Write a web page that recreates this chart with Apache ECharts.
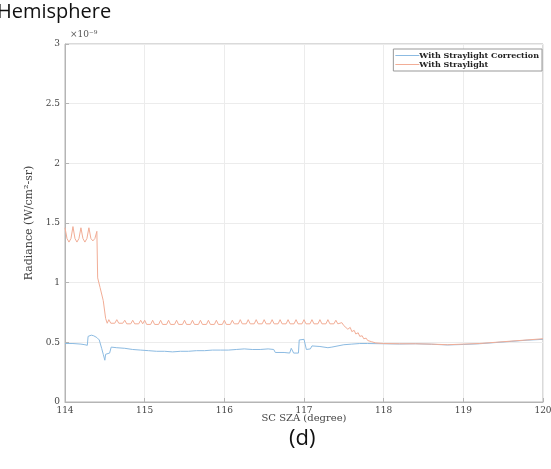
<!DOCTYPE html>
<html><head><meta charset="utf-8">
<script src="https://cdn.jsdelivr.net/npm/echarts@6/dist/echarts.min.js"></script>
<style>html,body{margin:0;padding:0;background:#fff}#c{width:551px;height:469px}</style>
</head><body><div id="c"></div>
<script>
// ---- data (x in degrees, y in units of 1e-9 W/cm^2-sr) ----
const xTicks = [114,115,116,117,118,119,120];
const yTicks = [0,0.5,1,1.5,2,2.5,3];
const seriesNames = ['With Straylight Correction','With Straylight'];

const blueX = [114.00,114.10,114.20,114.25,114.28,114.29,114.33,114.36,114.40,114.43,114.46,114.48,114.50,114.51,114.53,114.56,114.58,114.65,114.75,114.85,114.95,115.05,115.15,115.25,115.35,115.45,115.55,115.65,115.75,115.85,115.95,116.05,116.15,116.25,116.35,116.45,116.55,116.62,116.64,116.75,116.77,116.82,116.84,116.86,116.87,116.93,116.94,117.00,117.02,117.03,117.08,117.10,117.20,117.30,117.35,117.37,117.50,117.60,117.70,117.80,118.00,118.20,118.40,118.60,118.80,119.00,119.20,119.40,119.60,119.80,120.00];
const blueY = [0.49,0.49,0.485,0.48,0.475,0.55,0.56,0.555,0.54,0.52,0.45,0.40,0.35,0.40,0.41,0.41,0.46,0.455,0.45,0.44,0.435,0.43,0.425,0.425,0.42,0.425,0.425,0.43,0.43,0.435,0.435,0.435,0.44,0.445,0.44,0.44,0.445,0.44,0.415,0.415,0.41,0.41,0.45,0.45,0.41,0.41,0.52,0.525,0.52,0.44,0.445,0.47,0.465,0.455,0.46,0.475,0.48,0.485,0.49,0.49,0.488,0.486,0.488,0.484,0.478,0.482,0.488,0.498,0.508,0.518,0.525];

const redX = [114.000,114.025,114.050,114.075,114.100,114.125,114.150,114.175,114.200,114.225,114.250,114.275,114.300,114.325,114.350,114.375,114.400,114.410,114.440,114.480,114.510,114.530,
114.550,114.575,114.600,114.625,114.650,114.675,114.700,114.725,114.750,114.775,114.800,114.825,114.850,114.875,114.900,114.925,114.950,114.975,
115.000,115.025,115.050,115.075,115.100,115.125,115.150,115.175,115.200,115.225,115.250,115.275,115.300,115.325,115.350,115.375,115.400,115.425,115.450,115.475,
115.500,115.525,115.550,115.575,115.600,115.625,115.650,115.675,115.700,115.725,115.750,115.775,115.800,115.825,115.850,115.875,115.900,115.925,115.950,115.975,
116.000,116.025,116.050,116.075,116.100,116.125,116.150,116.175,116.200,116.225,116.250,116.275,116.300,116.325,116.350,116.375,116.400,116.425,116.450,116.475,
116.500,116.525,116.550,116.575,116.600,116.625,116.650,116.675,116.700,116.725,116.750,116.775,116.800,116.825,116.850,116.875,116.900,116.925,116.950,116.975,
117.000,117.025,117.050,117.075,117.100,117.125,117.150,117.175,117.200,117.225,117.250,117.275,117.300,117.325,117.350,117.375,117.400,117.425,117.450,117.475,
117.500,117.520,117.550,117.580,117.600,117.630,117.650,117.680,117.700,117.730,117.750,117.780,117.800,117.850,117.900,118.000,118.200,118.400,118.600,118.800,119.000,119.200,119.400,119.600,119.800,120.000];
const redY = [1.46,1.37,1.34,1.37,1.47,1.37,1.34,1.37,1.46,1.37,1.34,1.37,1.46,1.37,1.35,1.37,1.43,1.04,0.96,0.85,0.70,0.66,
0.69,0.66,0.645,0.66,0.69,0.66,0.645,0.66,0.685,0.655,0.64,0.655,0.685,0.655,0.64,0.655,0.685,0.655,
0.685,0.65,0.635,0.65,0.685,0.65,0.635,0.65,0.685,0.65,0.635,0.65,0.685,0.65,0.635,0.65,0.685,0.65,0.635,0.65,
0.685,0.65,0.635,0.65,0.685,0.65,0.635,0.65,0.685,0.65,0.635,0.65,0.685,0.65,0.635,0.65,0.685,0.65,0.635,0.65,
0.685,0.65,0.635,0.65,0.685,0.655,0.64,0.655,0.69,0.655,0.64,0.655,0.69,0.655,0.64,0.655,0.69,0.655,0.64,0.655,
0.69,0.655,0.64,0.655,0.69,0.655,0.64,0.655,0.69,0.655,0.64,0.655,0.69,0.655,0.64,0.655,0.69,0.655,0.64,0.655,
0.69,0.655,0.64,0.655,0.69,0.655,0.64,0.655,0.69,0.655,0.64,0.655,0.69,0.655,0.64,0.655,0.685,0.655,0.64,0.665,
0.64,0.645,0.61,0.625,0.59,0.60,0.57,0.58,0.55,0.555,0.53,0.535,0.515,0.505,0.495,0.49,0.488,0.488,0.485,0.48,0.485,0.49,0.50,0.51,0.52,0.53];

const zip = (xs, ys) => xs.map((x, i) => [x, ys[i]]);
const serif = "'DejaVu Serif', 'Liberation Serif', serif";
const chart = echarts.init(document.getElementById('c'));
chart.setOption({
  animation: false,
  backgroundColor: '#fff',
  grid: { left: 65, right: 8, top: 44, bottom: 67, outerBoundsMode: 'none', containLabel: false, show: true, borderColor: '#b5b5b5', borderWidth: 1 },
  xAxis: {
    type: 'value', min: 114, max: 120, interval: 1,
    name: 'SC SZA (degree)', nameLocation: 'middle', nameGap: 11, nameMoveOverlap: false,
    nameTextStyle: { fontFamily: serif, fontSize: 10, color: '#444' },
    axisLine: { lineStyle: { color: '#b5b5b5' } },
    axisTick: { inside: true, length: 4, lineStyle: { color: '#b5b5b5' } },
    axisLabel: { fontFamily: serif, fontSize: 9, color: '#444', margin: 4, formatter: v => xTicks.includes(v) ? String(v) : '' },
    splitLine: { show: true, lineStyle: { color: '#ececec' } }
  },
  yAxis: {
    type: 'value', min: 0, max: 3, interval: 0.5,
    name: 'Radiance (W/cm²-sr)', nameLocation: 'middle', nameGap: 30, nameMoveOverlap: false,
    nameTextStyle: { fontFamily: serif, fontSize: 11, color: '#444' },
    axisLine: { show: true, lineStyle: { color: '#b5b5b5' } },
    axisTick: { show: true, inside: true, length: 4, lineStyle: { color: '#b5b5b5' } },
    axisLabel: { fontFamily: serif, fontSize: 9, color: '#444', margin: 5, formatter: v => yTicks.includes(v) ? String(v) : '' },
    splitLine: { show: true, lineStyle: { color: '#ececec' } }
  },
  legend: {
    orient: 'vertical', right: 9, top: 49, itemGap: 0, itemWidth: 24, itemHeight: 1, icon: 'rect',
    backgroundColor: '#fff', borderColor: '#999', borderWidth: 1, borderRadius: 0, padding: [2, 3, 2, 2],
    textStyle: { fontFamily: serif, fontSize: 8, color: '#222', fontWeight: 'bold', lineHeight: 9, padding: [0,0,0,-5] },
    data: seriesNames
  },
  series: [
    { name: seriesNames[0], type: 'line', symbol: 'none', data: zip(blueX, blueY), lineStyle: { width: 1, color: '#8cbbe2' }, itemStyle: { color: '#8cbbe2' } },
    { name: seriesNames[1], type: 'line', symbol: 'none', data: zip(redX, redY), lineStyle: { width: 1, color: '#f2ad96' }, itemStyle: { color: '#f2ad96' } }
  ],
  graphic: [
    { type: 'text', left: -3, top: 2, style: { text: 'Hemisphere', font: "20px 'Open Sans', 'Noto Sans', sans-serif", fill: '#111' } },
    { type: 'text', left: 70, top: 30, style: { text: '×10⁻⁹', font: "9px " + serif, fill: '#555' } },
    { type: 'text', left: 289, top: 428, style: { text: '(d)', font: "22px 'Open Sans', 'Noto Sans', sans-serif", fill: '#111' } }
  ]
});
</script></body></html>
